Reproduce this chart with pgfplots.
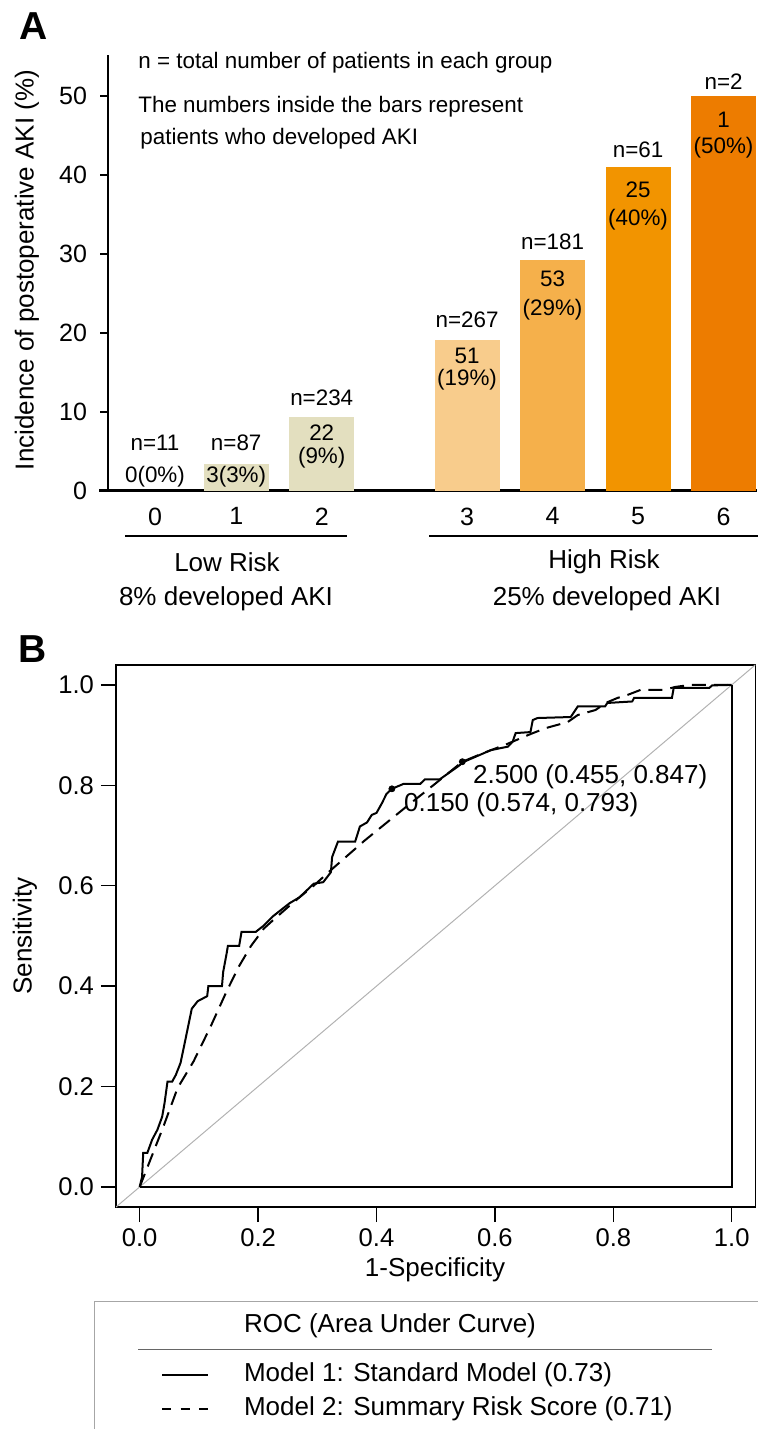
\documentclass[border=0pt]{standalone}
\usepackage{fontspec}
\setmainfont{Liberation Sans}
\usepackage{pgfplots}
\pgfplotsset{compat=1.18}

\definecolor{lowbar}{HTML}{E3DFBF}
\definecolor{hi3}{HTML}{F8CC8C}
\definecolor{hi4}{HTML}{F5B04B}
\definecolor{hi5}{HTML}{F29400}
\definecolor{hi6}{HTML}{ED7C00}

\newcommand{\fa}{\fontsize{11.2}{13}\selectfont}
\newcommand{\fb}{\fontsize{13}{15}\selectfont}

\begin{document}
\begin{tikzpicture}
\useasboundingbox (0,0) rectangle (378.5pt,-714.5pt);

% ---- Panel A: incidence of AKI by risk score
\begin{axis}[
  at={(54pt,-245.25pt)}, anchor=south west, scale only axis,
  width=324.5pt, height=217.75pt,
  xmin=-0.5497, xmax=7.041, ymin=0, ymax=55.2,
  axis x line*=bottom, axis y line*=left,
  x axis line style={line width=1.3pt, -, shorten <=-4.5pt},
  y axis line style={line width=0.9pt, -},
  ytick={0,10,20,30,40,50},
  xtick={0,0.95,1.95,3.65,4.65,5.65,6.65},
  xticklabels={0,1,2,3,4,5,6},
  x tick style={draw=none},
  y tick style={line width=0.9pt, black},
  tick align=outside, major tick length=4pt,
  /pgf/number format/assume math mode=true,
  ticklabel style={font=\fontsize{12.5}{14}\selectfont},
  xticklabel style={yshift=-1pt},
  yticklabel style={xshift=-3pt},
  ybar, bar width=0.76, bar shift=0pt,
]
\addplot[draw=none, fill=none] coordinates {(0,0)};
\addplot[draw=none, fill=lowbar] coordinates {(0.95,3.36)};
\addplot[draw=none, fill=lowbar] coordinates {(1.95,9.3)};
\addplot[draw=none, fill=hi3] coordinates {(3.65,19.1)};
\addplot[draw=none, fill=hi4] coordinates {(4.65,29.2)};
\addplot[draw=none, fill=hi5] coordinates {(5.65,41.0)};
\addplot[draw=none, fill=hi6] coordinates {(6.65,50.0)};

\begin{scope}[every node/.style={font=\fa}]
\node at (axis cs:0,6.0) {n=11};
\node at (axis cs:0,1.7) {0(0\%)};
\node at (axis cs:0.95,6.0) {n=87};
\node at (axis cs:0.95,1.7) {3(3\%)};
\node at (axis cs:1.95,11.7) {n=234};
\node at (axis cs:1.95,7.3) {22};
\node at (axis cs:1.95,4.1) {(9\%)};
\node at (axis cs:3.65,21.6) {n=267};
\node at (axis cs:3.65,17.0) {51};
\node at (axis cs:3.65,14.0) {(19\%)};
\node at (axis cs:4.65,31.5) {n=181};
\node at (axis cs:4.65,26.8) {53};
\node at (axis cs:4.65,22.9) {(29\%)};
\node at (axis cs:5.65,43.2) {n=61};
\node at (axis cs:5.65,38.1) {25};
\node at (axis cs:5.65,34.3) {(40\%)};
\node at (axis cs:6.65,51.8) {n=2};
\node at (axis cs:6.65,47.0) {1};
\node at (axis cs:6.65,43.4) {(50\%)};
\end{scope}
\end{axis}

% ---- Panel B: ROC curves
\begin{axis}[
  at={(58pt,-603.5pt)}, anchor=south west, scale only axis,
  width=319.7pt, height=271.1pt,
  xmin=-0.04, xmax=1.04, ymin=-0.04, ymax=1.04,
  axis line style={line width=0.75pt},
  tick pos=left, tick align=outside, major tick length=7.5pt,
  tick style={line width=0.75pt, black},
  xtick={0,0.2,0.4,0.6,0.8,1}, ytick={0,0.2,0.4,0.6,0.8,1},
  xticklabels={0.0,0.2,0.4,0.6,0.8,1.0},
  yticklabels={0.0,0.2,0.4,0.6,0.8,1.0},
  ticklabel style={font=\fontsize{12.8}{14}\selectfont},
]
% chance line
\addplot[gray!60, line width=0.5pt] coordinates {(-0.04,-0.04) (1.04,1.04)};
% frame of the curves
\addplot[black, line width=1pt] coordinates {(0,0) (1,0) (1,1)};
% Model 2: summary risk score
\addplot[black, line width=1pt, dash pattern=on 7pt off 4pt] coordinates {
  (0,0) (0.02,0.06) (0.04,0.12) (0.064,0.197) (0.091,0.25) (0.12,0.32)
  (0.147,0.39) (0.168,0.44) (0.188,0.48) (0.21,0.515) (0.225,0.531)
  (0.253,0.56) (0.27,0.577) (0.294,0.60) (0.319,0.627) (0.38,0.69)
  (0.45,0.757) (0.499,0.803) (0.545,0.847) (0.58,0.864) (0.62,0.882)
  (0.66,0.902) (0.686,0.914) (0.723,0.926) (0.74,0.94) (0.77,0.95)
  (0.787,0.964) (0.807,0.974) (0.824,0.98) (0.846,0.99) (0.885,0.99)
  (0.905,0.996) (0.93,1.0) (1,1)
};
% Model 1: standard model
\addplot[black, line width=1pt] coordinates {
  (0,0) (0.004,0.02) (0.006,0.068) (0.013,0.068) (0.021,0.094) (0.030,0.114)
  (0.038,0.14) (0.042,0.167) (0.047,0.21) (0.055,0.21) (0.061,0.223)
  (0.069,0.247) (0.074,0.275) (0.088,0.355) (0.098,0.37) (0.114,0.38)
  (0.116,0.40) (0.139,0.40) (0.141,0.428) (0.147,0.466) (0.149,0.48)
  (0.168,0.48) (0.172,0.508) (0.196,0.508) (0.209,0.52) (0.225,0.539)
  (0.253,0.565) (0.27,0.577) (0.294,0.604) (0.31,0.607) (0.323,0.627)
  (0.325,0.657) (0.335,0.688) (0.364,0.688) (0.372,0.718) (0.384,0.726)
  (0.392,0.741) (0.40,0.745) (0.409,0.764) (0.417,0.783) (0.426,0.793)
  (0.446,0.803) (0.474,0.803) (0.482,0.812) (0.507,0.812) (0.537,0.837)
  (0.548,0.847) (0.593,0.87) (0.622,0.877) (0.63,0.887) (0.635,0.904)
  (0.66,0.906) (0.664,0.93) (0.672,0.934) (0.728,0.936) (0.74,0.957)
  (0.786,0.957) (0.79,0.964) (0.832,0.967) (0.835,0.974) (0.899,0.974)
  (0.902,0.994) (0.962,0.994) (0.967,0.999) (1,1)
};
% best thresholds
\addplot[only marks, mark=*, mark size=1.5pt, black] coordinates {(0.426,0.793) (0.545,0.847)};
\node[anchor=west, font=\fb, inner sep=0pt] at (axis cs:0.5625,0.817) {2.500 (0.455, 0.847)};
\node[anchor=west, font=\fb, inner sep=0pt] at (axis cs:0.446,0.761) {0.150 (0.574, 0.793)};
\end{axis}

% ---- free text, in pixels of the reference
\begin{scope}[x=0.5pt, y=-0.5pt]
\node[font=\fontsize{19.5}{22}\selectfont\bfseries] at (33.5,26) {A};
\node[font=\fontsize{19.5}{22}\selectfont\bfseries] at (32.5,649) {B};
\node[anchor=west, font=\fa, inner sep=0pt] at (138,63) {n = total number of patients in each group};
\node[anchor=west, font=\fa, inner sep=0pt] at (138,107) {The numbers inside the bars represent};
\node[anchor=west, font=\fa, inner sep=0pt] at (140,139) {patients who developed AKI};
\node[rotate=90, font=\fb] at (27,270) {Incidence of postoperative AKI (\%)};
\draw[line width=1pt] (125,536) -- (347,536);
\draw[line width=1pt] (429,536) -- (760,536);
\node[font=\fb] at (227,562) {Low Risk};
\node[font=\fb] at (226,599) {8\% developed AKI};
\node[font=\fb] at (604,562) {High Risk};
\node[font=\fb] at (607,599) {25\% developed AKI};
\node[font=\fb] at (435,1270) {1-Specificity};
\node[rotate=90, font=\fb] at (25,936) {Sensitivity};
% legend
\draw[gray!70, line width=0.5pt] (762,1301) -- (94,1301) -- (94,1435);
\node[anchor=west, font=\fb] at (237,1326) {ROC (Area Under Curve)};
\draw[gray!80!black, line width=0.5pt] (138,1349) -- (712,1349);
\draw[line width=0.8pt] (162,1375) -- (208,1375);
\node[anchor=west, font=\fb] at (237,1375) {Model 1: Standard Model (0.73)};
\draw[line width=0.8pt, dash pattern=on 4.5pt off 4.8pt] (162,1409) -- (208.2,1409);
\node[anchor=west, font=\fb] at (237,1409) {Model 2: Summary Risk Score (0.71)};
\end{scope}
\end{tikzpicture}
\end{document}
